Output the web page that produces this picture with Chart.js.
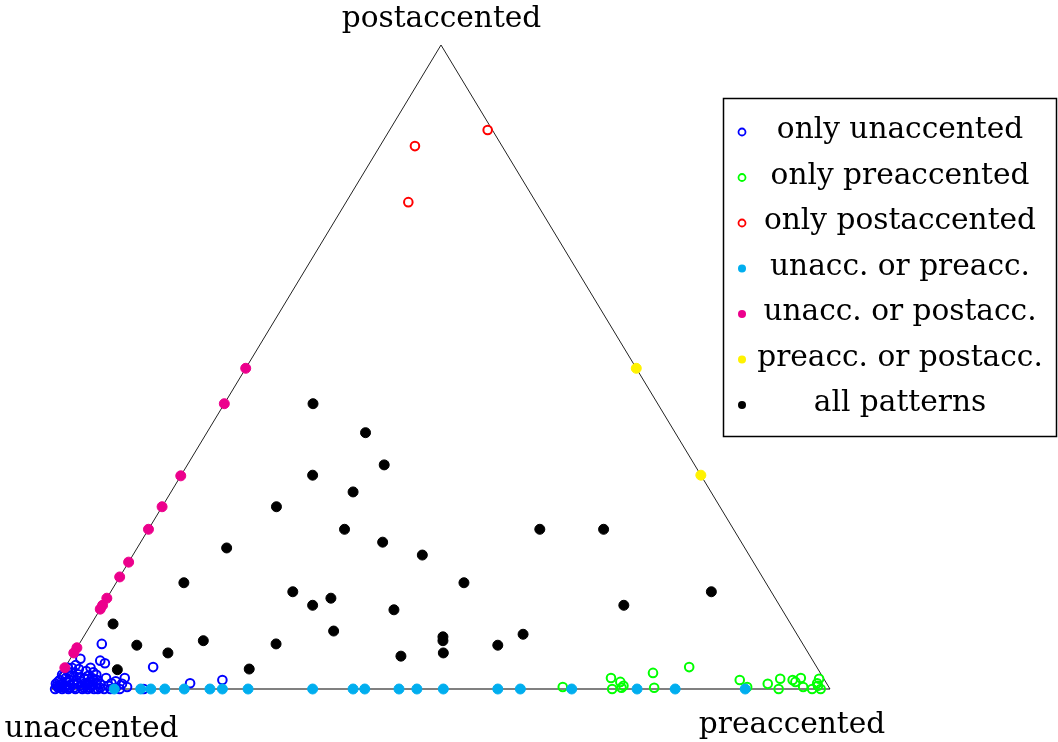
<!DOCTYPE html>
<html>
<head>
<meta charset="utf-8">
<script src="https://cdn.jsdelivr.net/npm/chart.js@4.4.0/dist/chart.umd.min.js"></script>
<style>
  body { margin: 0; background: #fff; }
  #wrap { width: 1058px; height: 742px; position: relative; }
</style>
</head>
<body>
<div id="wrap"><canvas id="ternary"></canvas></div>
<script>
// ternary shares: [preaccented, postaccented], unaccented = 1 - pre - post
var cornerLabels = ['unaccented', 'preaccented', 'postaccented'];
var seriesNames = ['only unaccented', 'only preaccented', 'only postaccented', 'unacc. or preacc.',
                   'unacc. or postacc.', 'preacc. or postacc.', 'all patterns'];
var seriesColors = ['#0000ff', '#00ff00', '#ff0000', '#00aeef', '#ec008c', '#fff200', '#000000'];
var seriesOpen = [true, true, true, false, false, false, false];

var onlyUnacc = [[.029,.070],[.040,.044],[.048,.040],[.113,.034],[.085,.017],[.076,.012],[.173,.009],
  [.212,.014],[.118,0],[.095,.003],[.087,0],[.013,.047],[.019,.031],[.033,.033],[.040,.026],[.051,.014],
  [.038,.009],[.059,0],[.018,.019],[.007,.006],[.004,0],[.013,0],[.021,0],[.030,0],[.039,0],[.046,0],
  [.054,0],[.067,0],[.075,0],[.0125,.011],[.020,.006],[.0295,.008],[.033,.017],[.036,.020],[.0125,.026],
  [.012,.037],[.0095,.017],[.002,.011],[.048,.006],[.058,.008],[.070,.005],[.072,.009],[.046,.022],
  [.030,.028],[.015,.002],[.034,.005],[.016,.014],[.043,.012],[.027,.002],[.081,.002],[.086,.008],
  [.061,.017],[.009,.003],[.004,.005],[.002,.022],[.004,.033],
  [.001,.008],[.003,.014],[.005,.020],[.008,.026],[.009,.033],[.009,.008],[.016,.005],[.022,.002],
  [.024,.014],[.0275,.017],[.033,.011],[.041,.005],[.048,.002],[.043,.017],[.053,.008],[.061,.002],
  [.007,.002],[.022,.023],[.024,.008],[.040,.002],[.042,.009],[.047,.014]];
var onlyPre = [[.655,.003],[.710,.017],[.720,0],[.725,.011],[.732,.005],[.731,.002],[.760,.025],[.773,.002],
  [.802,.034],[.877,.014],[.892,.003],[.916,.008],[.928,.016],[.934,0],[.945,.014],[.950,.011],[.954,.017],
  [.964,.003],[.977,0],[.979,.009],[.978,.016],[.988,0],[.982,.005]];
var onlyPost = [[.045,.843],[.126,.868],[.080,.756]];
var unaccOrPre = [[.080,0],[.114,0],[.127,0],[.145,0],[.170,0],[.203,0],[.219,0],[.252,0],[.335,0],[.387,0],
  [.402,0],[.446,0],[.469,0],[.503,0],[.573,0],[.602,0],[.668,0],[.752,0],[.801,0],[.891,0]];
var unaccOrPost = [[0,.498],[0,.443],[0,.331],[0,.283],[0,.248],[0,.197],[0,.174],[0,.141],[0,.124],
  [0,.130],[0,.064],[0,.056],[0,.033]];
var preOrPost = [[.502,.498],[.668,.332]];
var allPatterns = [[.114,.443],[.204,.398],[.253,.348],[.169,.332],[.234,.306],[.147,.283],[.252,.248],
  [.311,.228],[.372,.208],[.115,.219],[.447,.165],[.087,.165],[.234,.151],[.288,.141],[.270,.130],
  [.378,.123],[.028,.101],[.317,.090],[.462,.081],[.465,.075],[.475,.056],[.423,.051],[.075,.068],
  [.121,.056],[.157,.075],[.253,.070],[.069,.030],[.238,.031],[.503,.248],[.585,.248],[.772,.151],
  [.670,.130],[.563,.085],[.539,.068]];
var seriesData = [onlyUnacc, onlyPre, onlyPost, unaccOrPre, unaccOrPost, preOrPost, allPatterns];

function toXY(list) {
  return list.map(function (p) { return { x: p[0] + p[1] / 2, y: p[1] }; });
}

var datasets = [{
  label: 'frame',
  data: [{x: 0, y: 0}, {x: 1, y: 0}, {x: 0.5, y: 1}, {x: 0, y: 0}],
  showLine: true, pointRadius: 0, borderColor: '#222', borderWidth: 1, clip: false, order: 100,
  segment: {
    // bottom edge is drawn grey and a bit heavier in the original
    borderColor: function (c) { return c.p0DataIndex === 0 ? '#808080' : '#222'; },
    borderWidth: function (c) { return c.p0DataIndex === 0 ? 2 : 1; }
  }
}];
for (var i = 0; i < seriesNames.length; i++) {
  var open = seriesOpen[i];
  datasets.push({
    label: seriesNames[i],
    data: toXY(seriesData[i]),
    pointRadius: open ? 4.3 : 5,
    borderWidth: open ? 2 : 1,
    borderColor: seriesColors[i],
    backgroundColor: open ? 'rgba(0,0,0,0)' : seriesColors[i],
    clip: false,
    order: 20 - i
  });
}

var fontFamily = '"DejaVu Serif", serif';

// corner labels and the boxed legend
var overlay = {
  id: 'overlay',
  afterDraw: function (chart) {
    var ctx = chart.ctx;
    ctx.save();
    ctx.font = '100px ' + fontFamily;
    var size = 100 * 272 / ctx.measureText('only postaccented').width;
    ctx.font = size.toFixed(1) + 'px ' + fontFamily;
    ctx.fillStyle = '#000';
    ctx.textAlign = 'center';
    ctx.textBaseline = 'alphabetic';
    ctx.fillText(cornerLabels[2], 441.5, 27);
    ctx.fillText(cornerLabels[0], 91.5, 737);
    ctx.fillText(cornerLabels[1], 792, 733);

    ctx.lineWidth = 1.5;
    ctx.strokeStyle = '#000';
    ctx.strokeRect(723.5, 98.5, 333, 338);
    for (var i = 0; i < seriesNames.length; i++) {
      var base = 138 + i * 45.5;
      ctx.fillStyle = '#000';
      ctx.fillText(seriesNames[i], 900, base);
      ctx.beginPath();
      ctx.arc(742, base - 6, seriesOpen[i] ? 3.5 : 4, 0, Math.PI * 2);
      if (seriesOpen[i]) {
        ctx.lineWidth = 1.8;
        ctx.strokeStyle = seriesColors[i];
        ctx.stroke();
      } else {
        ctx.fillStyle = seriesColors[i];
        ctx.fill();
      }
    }
    ctx.restore();
  }
};

new Chart(document.getElementById('ternary'), {
  type: 'scatter',
  data: { datasets: datasets },
  options: {
    responsive: true,
    maintainAspectRatio: false,
    animation: false,
    events: [],
    layout: { padding: { left: 52, right: 228, top: 45, bottom: 53 } },
    scales: {
      x: { type: 'linear', min: 0, max: 1, display: false },
      y: { type: 'linear', min: 0, max: 1, display: false }
    },
    plugins: { legend: { display: false }, tooltip: { enabled: false } }
  },
  plugins: [overlay]
});
</script>
</body>
</html>
